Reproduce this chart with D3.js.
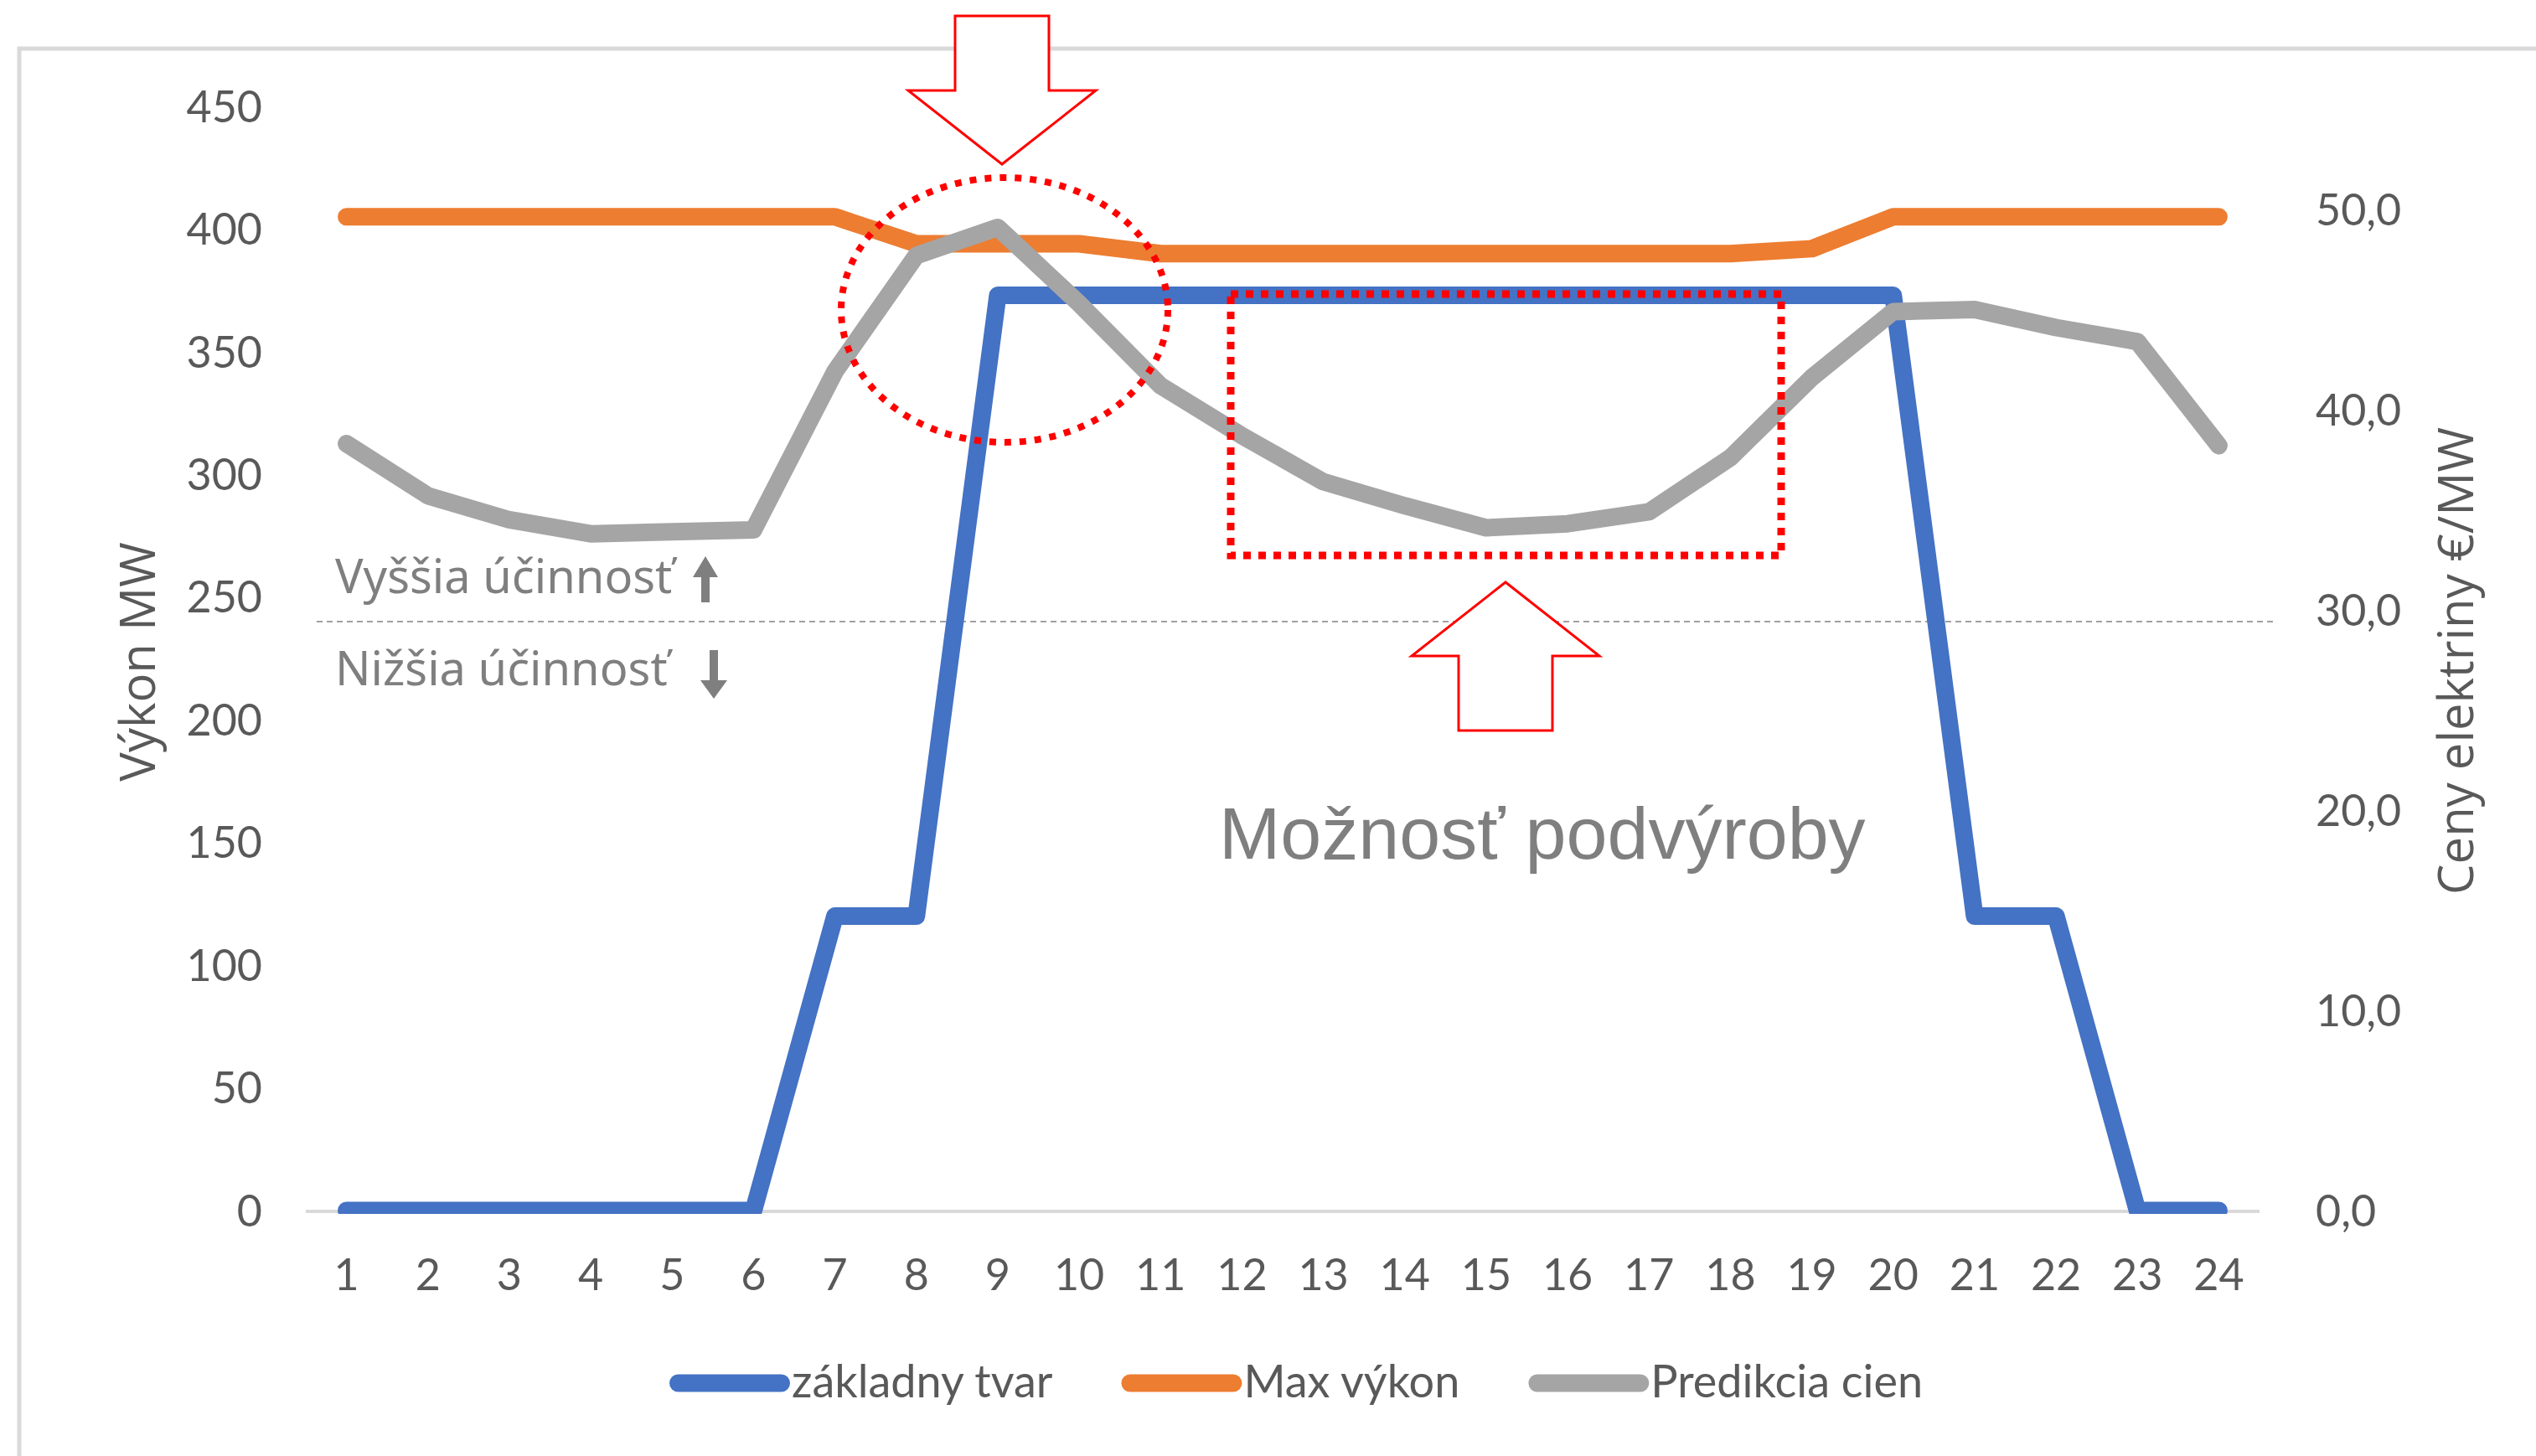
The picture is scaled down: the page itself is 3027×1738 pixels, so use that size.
<!DOCTYPE html>
<html>
<head>
<meta charset="utf-8">
<script src="https://cdn.jsdelivr.net/npm/d3@7"></script>
<style>
  body { margin: 0; background: #ffffff; }
  svg { display: block; }
</style>
</head>
<body>
<div class="chart"></div>
<script>
"use strict";

// hodiny dna
var hours = ["1","2","3","4","5","6","7","8","9","10","11","12",
             "13","14","15","16","17","18","19","20","21","22","23","24"];

// základny tvar (MW)
var zakladnyTvar = [0,0,0,0,0,0,120,120,373,373,373,373,
                    373,373,373,373,373,373,373,373,120,120,0,0];

// Max výkon (MW)
var maxVykon = [405,405,405,405,405,405,405,394,394,394,390,390,
                390,390,390,390,390,390,392,405,405,405,405,405];

// Predikcia cien (€/MW)
var predikciaCien = [38.3,35.7,34.5,33.8,33.9,34.0,41.9,47.7,49.1,45.3,41.2,38.7,
                     36.4,35.2,34.1,34.3,34.9,37.6,41.6,44.9,45.0,44.1,43.4,38.2];

var leftTicks = [0,50,100,150,200,250,300,350,400,450];
var rightTicks = [0,10,20,30,40,50];
var efficiencyLimit = 240; // MW, hranica účinnosti

var seriesNames = ["základny tvar", "Max výkon", "Predikcia cien"];
var seriesColors = ["#4472C4", "#ED7D31", "#A5A5A5"];

var width = 3027,
    height = 1738;

var svg = d3.select(".chart")
          .append("svg")
          .attr("width", width)
          .attr("height", height);

var x = d3.scaleBand()
    .domain(hours)
    .range([365, 2697]);

var yLeft = d3.scaleLinear()
    .domain([0, 450])
    .range([1445, 127]);

var yRight = d3.scaleLinear()
    .domain([0, 50])
    .range([1445, 250]);

function cx(d){ return x(d) + x.bandwidth()/2; }

var comma = d3.formatLocale({decimal: ",", thousands: " ", grouping: [3], currency: ["", "€"]});
var fmtRight = comma.format(".1f");

// chart area border (only top/left visible)
svg.append("rect")
    .attr("x", 23)
    .attr("y", 58)
    .attr("width", width)
    .attr("height", height)
    .attr("fill", "none")
    .attr("stroke", "#D9D9D9")
    .attr("stroke-width", 5);

// left axis labels
svg.append("g")
    .selectAll("text")
    .data(leftTicks)
    .enter().append("text")
        .attr("x", 313)
        .attr("y", function(d){ return yLeft(d); })
        .attr("dy", "0.36em")
        .style("text-anchor", "end")
        .style("font-family", "Lato, sans-serif")
        .style("font-size", "52px")
        .style("fill", "#595959")
        .text(function(d){ return d; });

// right axis labels
svg.append("g")
    .selectAll("text")
    .data(rightTicks)
    .enter().append("text")
        .attr("x", 2764)
        .attr("y", function(d){ return yRight(d); })
        .attr("dy", "0.36em")
        .style("text-anchor", "start")
        .style("font-family", "Lato, sans-serif")
        .style("font-size", "52px")
        .style("fill", "#595959")
        .text(function(d){ return fmtRight(d); });

// x axis line + labels
svg.append("line")
    .attr("x1", x.range()[0])
    .attr("x2", x.range()[1])
    .attr("y1", yLeft(0) + 1)
    .attr("y2", yLeft(0) + 1)
    .attr("stroke", "#D9D9D9")
    .attr("stroke-width", 4);

svg.append("g")
    .selectAll("text")
    .data(hours)
    .enter().append("text")
        .attr("x", cx)
        .attr("y", 1540)
        .style("text-anchor", "middle")
        .style("font-family", "Lato, sans-serif")
        .style("font-size", "52px")
        .style("fill", "#595959")
        .text(function(d){ return d; });

// axis titles
svg.append("text")
    .attr("transform", "translate(185,790) rotate(-90)")
    .style("text-anchor", "middle")
    .style("font-family", "'Open Sans', sans-serif")
    .style("font-size", "58px")
    .style("fill", "#595959")
    .text("Výkon MW");

svg.append("text")
    .attr("transform", "translate(2952,789) rotate(-90)")
    .style("text-anchor", "middle")
    .style("font-family", "'Open Sans', sans-serif")
    .style("font-size", "58px")
    .style("fill", "#595959")
    .text("Ceny elektriny €/MW");

// hranica účinnosti
svg.append("line")
    .attr("x1", 378)
    .attr("x2", 2714)
    .attr("y1", yLeft(efficiencyLimit))
    .attr("y2", yLeft(efficiencyLimit))
    .attr("stroke", "#A0A0A0")
    .attr("stroke-width", 2)
    .attr("stroke-dasharray", "7,5");

svg.append("text")
    .attr("x", 400)
    .attr("y", 708)
    .style("font-family", "'Noto Sans', sans-serif")
    .style("font-size", "56px")
    .style("fill", "#7F7F7F")
    .text("Vyššia účinnosť");

svg.append("text")
    .attr("x", 400)
    .attr("y", 818)
    .style("font-family", "'Noto Sans', sans-serif")
    .style("font-size", "56px")
    .style("fill", "#7F7F7F")
    .text("Nižšia účinnosť");

// small arrows next to the labels
svg.append("path")
    .attr("d", "M827,689 L842,664 L857,689 L847,689 L847,719 L837,719 L837,689 Z")
    .attr("fill", "#7F7F7F");
svg.append("path")
    .attr("d", "M847,776 L857,776 L857,812 L868,812 L852,834 L836,812 L847,812 Z")
    .attr("fill", "#7F7F7F");

// series
svg.append("clipPath")
    .attr("id", "plotClip")
    .append("rect")
        .attr("x", 0)
        .attr("y", 0)
        .attr("width", width)
        .attr("height", 1449);

var series = [
    {values: zakladnyTvar, scale: yLeft},
    {values: maxVykon, scale: yLeft},
    {values: predikciaCien, scale: yRight}
];

var lines = svg.append("g")
    .attr("clip-path", "url(#plotClip)")
    .selectAll("path")
    .data(series)
    .enter().append("path")
        .attr("d", function(s){
            return d3.line()
                .x(function(v, i){ return cx(hours[i]); })
                .y(function(v){ return s.scale(v); })(s.values);
        })
        .attr("fill", "none")
        .attr("stroke", function(s, i){ return seriesColors[i]; })
        .attr("stroke-width", 21)
        .attr("stroke-linejoin", "round")
        .attr("stroke-linecap", "round");

// annotations
svg.append("ellipse")
    .attr("cx", 1199)
    .attr("cy", 370)
    .attr("rx", 195)
    .attr("ry", 158)
    .attr("fill", "none")
    .attr("stroke", "#FF0000")
    .attr("stroke-width", 8)
    .attr("stroke-dasharray", "8,10");

svg.append("rect")
    .attr("x", 1469)
    .attr("y", 351)
    .attr("width", 657)
    .attr("height", 312)
    .attr("fill", "none")
    .attr("stroke", "#FF0000")
    .attr("stroke-width", 9)
    .attr("stroke-dasharray", "9,9");

// hollow block arrows
function blockArrow(cxA, tipY, dir){
    // dir = 1 -> points down, -1 -> points up
    var headH = 88, shaftH = 89, headW = 112, shaftW = 56;
    var baseY = tipY - dir*headH,
        endY = baseY - dir*shaftH;
    return "M" + cxA + "," + tipY +
        " L" + (cxA - headW) + "," + baseY +
        " L" + (cxA - shaftW) + "," + baseY +
        " L" + (cxA - shaftW) + "," + endY +
        " L" + (cxA + shaftW) + "," + endY +
        " L" + (cxA + shaftW) + "," + baseY +
        " L" + (cxA + headW) + "," + baseY + " Z";
}

svg.append("path")
    .attr("d", blockArrow(1196, 196, 1))
    .attr("fill", "#ffffff")
    .attr("stroke", "#FF0000")
    .attr("stroke-width", 3);

svg.append("path")
    .attr("d", blockArrow(1797, 695, -1))
    .attr("fill", "#ffffff")
    .attr("stroke", "#FF0000")
    .attr("stroke-width", 3);

svg.append("text")
    .attr("x", 1455)
    .attr("y", 1025)
    .style("font-family", "'Liberation Sans', Arial, sans-serif")
    .style("font-size", "88px")
    .style("fill", "#7F7F7F")
    .text("Možnosť podvýroby");

// legend
var legend = svg.append("g");
var lx = 799;
seriesNames.forEach(function(name, i){
    legend.append("line")
        .attr("x1", lx + 10.5)
        .attr("x2", lx + 133.5)
        .attr("y1", 1651)
        .attr("y2", 1651)
        .attr("stroke", seriesColors[i])
        .attr("stroke-width", 21)
        .attr("stroke-linecap", "round");
    var t = legend.append("text")
        .attr("x", lx + 146)
        .attr("y", 1668)
        .style("font-family", "Lato, sans-serif")
        .style("font-size", "54px")
        .style("fill", "#595959")
        .text(name);
    lx = lx + 146 + t.node().getComputedTextLength() + 82;
});

</script>
</body>
</html>
